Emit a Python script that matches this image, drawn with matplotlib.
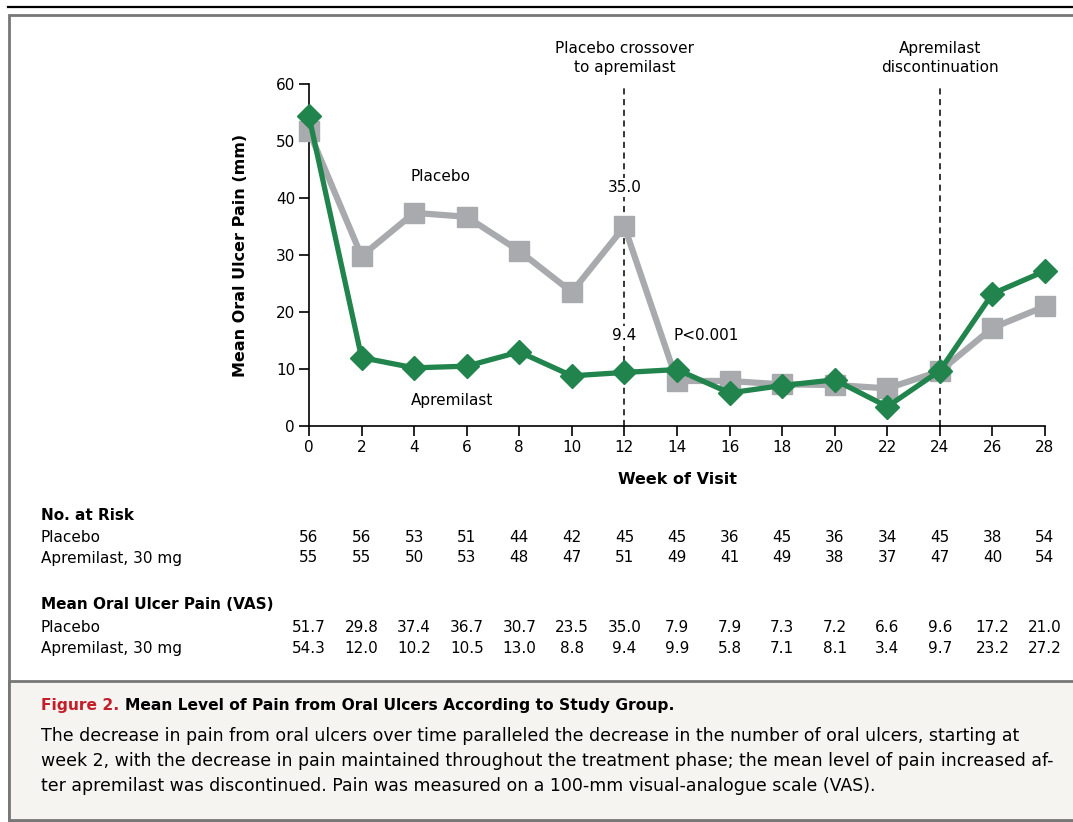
import matplotlib
matplotlib.use("Agg")
import matplotlib.pyplot as plt
import matplotlib.transforms as mtransforms
from matplotlib.patches import Rectangle
from matplotlib.lines import Line2D

weeks = [0, 2, 4, 6, 8, 10, 12, 14, 16, 18, 20, 22, 24, 26, 28]
placebo_pain = [51.7, 29.8, 37.4, 36.7, 30.7, 23.5, 35.0, 7.9, 7.9, 7.3, 7.2, 6.6, 9.6, 17.2, 21.0]
apremilast_pain = [54.3, 12.0, 10.2, 10.5, 13.0, 8.8, 9.4, 9.9, 5.8, 7.1, 8.1, 3.4, 9.7, 23.2, 27.2]
placebo_risk = [56, 56, 53, 51, 44, 42, 45, 45, 36, 45, 36, 34, 45, 38, 54]
apremilast_risk = [55, 55, 50, 53, 48, 47, 51, 49, 41, 49, 38, 37, 47, 40, 54]
event_weeks = [12, 24]
event_labels = ["Placebo crossover\nto apremilast", "Apremilast\ndiscontinuation"]

GREEN = "#21844c"
GREY = "#a8aaad"
FONT = "DejaVu Sans"
plt.rcParams["font.family"] = FONT

W, H = 1073, 822
fig = plt.figure(figsize=(W / 100, H / 100), dpi=100)


def fy(py):
    return 1 - py / H


def fx(px):
    return px / W


# outer frame, rule and caption panel (kept behind the axes)
fig.add_artist(Line2D([fx(8), 1], [fy(7), fy(7)], color="black", lw=1.6, zorder=-5))
fig.add_artist(Rectangle((fx(9), fy(820)), 1.0, fy(15) - fy(820), facecolor="white",
                         edgecolor="#777777", lw=2.0, zorder=-10))
fig.add_artist(Rectangle((fx(9), fy(820)), 1.0, fy(681) - fy(820), facecolor="#f6f4f0",
                         edgecolor="#777777", lw=2.0, zorder=-9))

ax = fig.add_axes([fx(309), fy(426), fx(1045) - fx(309), fy(84) - fy(426)])
ax.set_xlim(0, 28)
ax.set_ylim(0, 60)
ax.patch.set_alpha(0)
for s in ["top", "right"]:
    ax.spines[s].set_visible(False)
for s in ["left", "bottom"]:
    ax.spines[s].set_linewidth(1.2)
ax.set_xticks(weeks)
ax.set_yticks(range(0, 61, 10))
ax.tick_params(direction="out", length=7, width=1.2, labelsize=11, pad=3)

for wk, lab in zip(event_weeks, event_labels):
    ax.axvline(wk, color="black", lw=1.1, ls=(0, (4, 3)), zorder=1)
    ax.text(wk, 61.6, lab, ha="center", va="bottom", fontsize=11, linespacing=1.3,
            clip_on=False)

ax.plot(weeks, placebo_pain, color=GREY, lw=4.5, marker="s", ms=14, zorder=3,
        solid_joinstyle="miter", clip_on=False)
ax.plot(weeks, apremilast_pain, color=GREEN, lw=3.8, marker="D", ms=12, zorder=4,
        solid_joinstyle="miter", clip_on=False)

box = dict(facecolor="white", edgecolor="none", pad=1.5)
ax.text(12, 41.9, f"{placebo_pain[6]:.1f}", ha="center", va="center", fontsize=11,
        bbox=box, zorder=2)
ax.text(12, 15.8, f"{apremilast_pain[6]:.1f}", ha="center", va="center", fontsize=11,
        bbox=box, zorder=2)
ax.text(15.1, 15.8, "P<0.001", ha="center", va="center", fontsize=11)
ax.text(3.88, 43.7, "Placebo", ha="left", va="center", fontsize=11)
ax.text(3.88, 4.4, "Apremilast", ha="left", va="center", fontsize=11)

ax.set_ylabel("Mean Oral Ulcer Pain (mm)", fontsize=11.5, fontweight="bold", labelpad=20)
ax.set_xlabel("Week of Visit", fontsize=11.5, fontweight="bold", labelpad=12)

# tables under the axis, columns follow the week ticks
tr = mtransforms.blended_transform_factory(ax.transData, fig.transFigure)


def table_row(y_px, label, values, fmt, bold=False):
    fig.text(fx(41), fy(y_px), label, ha="left", va="center", fontsize=11,
             fontweight="bold" if bold else "normal")
    if values is None:
        return
    for wk, v in zip(weeks, values):
        ax.text(wk, fy(y_px), fmt.format(v), transform=tr, ha="center", va="center",
                fontsize=11, clip_on=False)


table_row(515, "No. at Risk", None, "", bold=True)
table_row(538, "Placebo", placebo_risk, "{}")
table_row(558, "Apremilast, 30 mg", apremilast_risk, "{}")
table_row(604, "Mean Oral Ulcer Pain (VAS)", None, "", bold=True)
table_row(628, "Placebo", placebo_pain, "{:.1f}")
table_row(648, "Apremilast, 30 mg", apremilast_pain, "{:.1f}")

# caption
t1 = fig.text(fx(41), fy(705), "Figure 2. ", ha="left", va="center", fontsize=11.2,
              fontweight="bold", color="#c41e2a")
fig.canvas.draw()
bb = t1.get_window_extent()
fig.text(bb.x1 / W, fy(705), "Mean Level of Pain from Oral Ulcers According to Study Group.",
         ha="left", va="center", fontsize=11.2, fontweight="bold", color="black")
caption = [
    "The decrease in pain from oral ulcers over time paralleled the decrease in the number of oral ulcers, starting at",
    "week 2, with the decrease in pain maintained throughout the treatment phase; the mean level of pain increased af-",
    "ter apremilast was discontinued. Pain was measured on a 100-mm visual-analogue scale (VAS).",
]
for i, line in enumerate(caption):
    fig.text(fx(41), fy(736 + 25 * i), line, ha="left", va="center", fontsize=12.5)

fig.savefig("out.png", dpi=100)
